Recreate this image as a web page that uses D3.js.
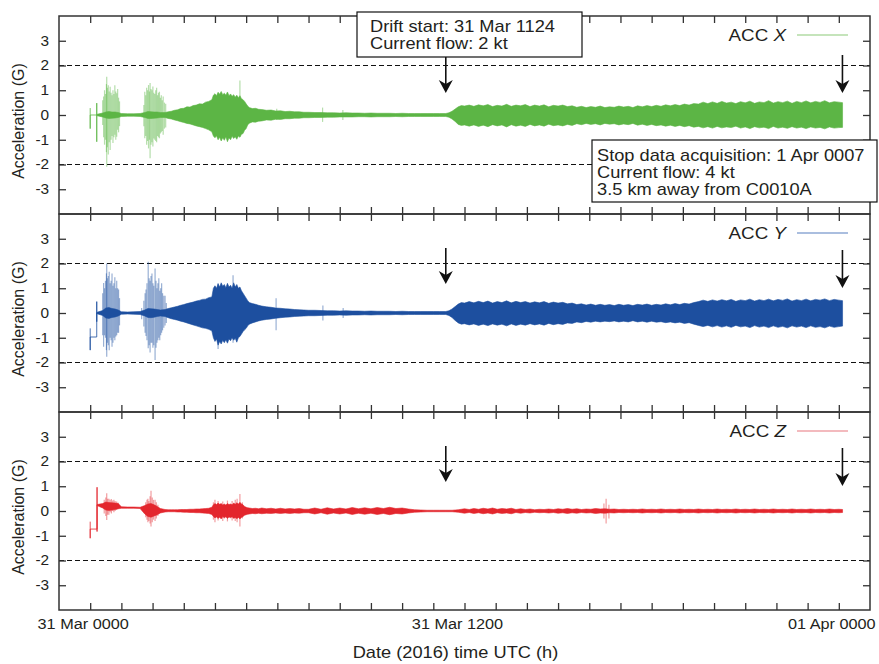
<!DOCTYPE html>
<html>
<head>
<meta charset="utf-8">
<script src="https://cdn.jsdelivr.net/npm/d3@7"></script>
<style>
  body { margin: 0; background: #fff; }
  svg text { font-family: "Liberation Sans", Arial, Helvetica, sans-serif; fill: #231f20; }
</style>
</head>
<body>
<svg id="chart" width="879" height="664"></svg>
<script>
// ---- Data: hours after 31 Mar 2016 00:00 UTC -------------------------------
// Time grid at which the oscillation envelope (upper / lower) is sampled
const hours = [
  0.22, 0.4, 0.5, 0.6, 0.7, 0.8, 0.9, 1.0, 1.2, 1.4,
  1.6, 1.75, 1.85, 1.95, 2.05, 2.15, 2.25, 2.4, 2.5, 2.6,
  2.7, 2.8, 2.9, 3.0, 3.1, 3.2, 3.3, 3.4, 3.5, 3.6,
  3.7, 3.8, 3.9, 3.95, 4.0, 4.05, 4.1, 4.15, 4.2, 4.25,
  4.3, 4.35, 4.4, 4.45, 4.5, 4.55, 4.6, 4.65, 4.7, 4.75,
  4.8, 4.85, 4.9, 4.95, 5.0, 5.05, 5.1, 5.2, 5.3, 5.4,
  5.5, 5.65, 5.8, 5.95, 6.1, 6.25, 6.4, 6.55, 6.7, 6.85,
  7.0, 7.2, 7.4, 7.6, 7.8, 8.0, 8.2, 8.4, 8.6, 8.8,
  9.0, 9.2, 9.4, 9.6, 9.8, 10.0, 10.2, 10.4, 10.6, 10.8,
  11.0, 11.2, 11.4, 11.5, 11.6, 11.7, 11.8, 11.9, 12.0, 12.15,
  12.3, 12.45, 12.6, 12.75, 12.9, 13.05, 13.2, 13.35, 13.5, 13.65,
  13.8, 13.95, 14.1, 14.25, 14.4, 14.55, 14.7, 14.85, 15.0, 15.15,
  15.3, 15.45, 15.6, 15.75, 15.9, 16.05, 16.2, 16.35, 16.5, 16.65,
  16.8, 16.95, 17.1, 17.25, 17.4, 17.55, 17.7, 17.85, 18.0, 18.15,
  18.3, 18.45, 18.6, 18.75, 18.9, 19.05, 19.2, 19.35, 19.5, 19.65,
  19.8, 19.95, 20.1, 20.25, 20.4, 20.55, 20.7, 20.85, 21.0, 21.15,
  21.3, 21.45, 21.6, 21.75, 21.9, 22.05, 22.2, 22.35, 22.5, 22.65,
  22.8, 22.95, 23.1, 23.25, 23.4, 23.55, 23.7, 23.85, 24.0, 24.12
];

// ACC X (G)
const accXUpper = [
  0.03, 0.08, 0.12, 0.14, 0.12, 0.12, 0.10, 0.06, 0.05, 0.05,
  0.06, 0.10, 0.14, 0.13, 0.12, 0.12, 0.10, 0.10, 0.13, 0.15,
  0.19, 0.21, 0.26, 0.27, 0.33, 0.32, 0.38, 0.40, 0.45, 0.44,
  0.52, 0.55, 0.62, 0.80, 0.86, 0.78, 0.92, 0.84, 0.95, 0.82,
  0.88, 0.80, 0.93, 0.78, 0.85, 0.76, 0.82, 0.72, 0.80, 0.70,
  0.78, 0.66, 0.62, 0.55, 0.45, 0.36, 0.30, 0.26, 0.27, 0.23,
  0.22, 0.19, 0.20, 0.16, 0.17, 0.14, 0.15, 0.13, 0.13, 0.11,
  0.11, 0.10, 0.10, 0.09, 0.09, 0.08, 0.09, 0.08, 0.08, 0.07,
  0.08, 0.07, 0.07, 0.07, 0.06, 0.07, 0.06, 0.06, 0.06, 0.06,
  0.06, 0.06, 0.06, 0.09, 0.15, 0.24, 0.33, 0.38, 0.36, 0.40,
  0.35, 0.41, 0.37, 0.42, 0.34, 0.39, 0.36, 0.43, 0.35, 0.40,
  0.37, 0.42, 0.34, 0.40, 0.36, 0.41, 0.33, 0.39, 0.36, 0.40,
  0.34, 0.37, 0.31, 0.35, 0.30, 0.34, 0.31, 0.36, 0.30, 0.33,
  0.31, 0.36, 0.32, 0.35, 0.30, 0.37, 0.33, 0.38, 0.34, 0.39,
  0.35, 0.41, 0.37, 0.42, 0.38, 0.44, 0.40, 0.46, 0.44, 0.52,
  0.46, 0.53, 0.47, 0.55, 0.48, 0.52, 0.46, 0.54, 0.49, 0.56,
  0.47, 0.53, 0.50, 0.58, 0.48, 0.54, 0.50, 0.56, 0.47, 0.55,
  0.50, 0.57, 0.49, 0.55, 0.51, 0.58, 0.49, 0.54, 0.52, 0.50
];
const accXLower = [
  -0.03, -0.08, -0.12, -0.14, -0.13, -0.12, -0.10, -0.06, -0.05, -0.05,
  -0.06, -0.10, -0.14, -0.14, -0.13, -0.12, -0.10, -0.10, -0.14, -0.16,
  -0.20, -0.23, -0.27, -0.30, -0.34, -0.36, -0.40, -0.44, -0.47, -0.50,
  -0.55, -0.60, -0.68, -0.85, -0.92, -0.84, -1.00, -0.90, -1.05, -0.92,
  -1.02, -0.88, -1.08, -0.92, -1.00, -0.86, -0.95, -0.88, -0.98, -0.85,
  -0.90, -0.78, -0.75, -0.62, -0.55, -0.40, -0.33, -0.28, -0.29, -0.25,
  -0.24, -0.20, -0.21, -0.17, -0.18, -0.15, -0.15, -0.13, -0.13, -0.11,
  -0.11, -0.10, -0.10, -0.09, -0.09, -0.08, -0.08, -0.08, -0.07, -0.07,
  -0.08, -0.07, -0.07, -0.07, -0.06, -0.07, -0.06, -0.06, -0.06, -0.06,
  -0.06, -0.06, -0.06, -0.09, -0.16, -0.26, -0.38, -0.42, -0.40, -0.45,
  -0.40, -0.46, -0.41, -0.47, -0.39, -0.44, -0.40, -0.48, -0.39, -0.45,
  -0.41, -0.46, -0.38, -0.44, -0.40, -0.45, -0.37, -0.43, -0.40, -0.44,
  -0.38, -0.42, -0.35, -0.39, -0.34, -0.38, -0.35, -0.40, -0.34, -0.37,
  -0.35, -0.40, -0.36, -0.39, -0.34, -0.41, -0.37, -0.42, -0.38, -0.43,
  -0.40, -0.45, -0.41, -0.46, -0.42, -0.47, -0.43, -0.49, -0.46, -0.52,
  -0.47, -0.53, -0.46, -0.52, -0.48, -0.51, -0.45, -0.53, -0.48, -0.55,
  -0.47, -0.52, -0.49, -0.55, -0.46, -0.53, -0.49, -0.54, -0.47, -0.53,
  -0.49, -0.55, -0.48, -0.53, -0.50, -0.56, -0.48, -0.53, -0.51, -0.50
];
const accXLeadHours  = [0, 0, 0, 0.21, 0.21, 0.21, 0.21, 0.22];
const accXLeadValues = [0.28, -0.55, 0, 0, 0.48, -1.08, 0, 0];
const accXSpikeHours = [
  0.40, 0.43, 0.46, 0.49, 0.52, 0.53, 0.55, 0.58, 0.61, 0.64,
  0.67, 0.70, 0.73, 0.76, 0.79, 0.82, 0.85, 0.88, 0.91, 0.94,
  1.72, 1.75, 1.78, 1.81, 1.84, 1.87, 1.90, 1.92, 1.95, 1.98,
  2.01, 2.04, 2.07, 2.10, 2.13, 2.16, 2.19, 2.22, 2.25, 2.28,
  2.31, 2.34, 2.38, 2.42, 4.80, 5.98, 7.45, 8.10];
const accXSpikeTop = [
  0.60, 0.75, 1.00, 0.85, 1.25, 1.55, 1.10, 1.20, 0.95, 1.14,
  0.90, 0.80, 1.00, 0.85, 1.20, 0.95, 0.88, 1.05, 0.70, 0.55,
  0.40, 0.94, 0.80, 1.10, 1.00, 1.21, 0.95, 1.29, 1.05, 1.00,
  1.15, 0.90, 0.85, 1.00, 1.10, 0.80, 0.90, 0.94, 0.70, 0.80,
  0.60, 0.75, 0.50, 0.45, 1.39, 0.25, 0.30, 0.20];
const accXSpikeBottom = [
  -0.40, -0.90, -1.20, -1.00, -1.50, -2.09, -1.30, -1.60, -1.10, -1.41,
  -1.00, -0.85, -1.13, -0.90, -0.80, -1.00, -0.88, -0.60, -0.70, -0.45,
  -0.45, -0.94, -0.85, -1.20, -1.05, -1.35, -1.00, -1.75, -1.20, -1.10,
  -1.27, -0.95, -1.00, -1.05, -1.10, -0.85, -0.90, -0.94, -0.75, -0.70,
  -0.65, -0.80, -0.55, -0.50, -0.88, -0.20, -0.28, -0.20];

// ACC Y (G)
const accYUpper = [
  0.03, 0.10, 0.20, 0.22, 0.18, 0.16, 0.12, 0.05, 0.04, 0.05,
  0.06, 0.12, 0.18, 0.17, 0.16, 0.14, 0.12, 0.14, 0.18, 0.21,
  0.24, 0.27, 0.31, 0.34, 0.38, 0.41, 0.44, 0.48, 0.51, 0.55,
  0.56, 0.62, 0.65, 1.00, 1.10, 1.00, 1.18, 1.05, 1.22, 1.08,
  1.15, 1.02, 1.20, 1.05, 1.12, 1.00, 1.22, 1.05, 1.15, 1.00,
  1.05, 0.90, 0.80, 0.70, 0.60, 0.50, 0.42, 0.38, 0.35, 0.31,
  0.28, 0.25, 0.23, 0.20, 0.19, 0.17, 0.16, 0.14, 0.13, 0.12,
  0.11, 0.11, 0.10, 0.09, 0.09, 0.08, 0.09, 0.08, 0.08, 0.07,
  0.08, 0.07, 0.07, 0.07, 0.06, 0.07, 0.06, 0.06, 0.06, 0.06,
  0.06, 0.06, 0.06, 0.09, 0.16, 0.26, 0.36, 0.42, 0.40, 0.46,
  0.41, 0.47, 0.42, 0.48, 0.40, 0.46, 0.42, 0.49, 0.41, 0.47,
  0.42, 0.46, 0.40, 0.45, 0.41, 0.46, 0.39, 0.44, 0.40, 0.43,
  0.37, 0.40, 0.34, 0.37, 0.32, 0.36, 0.31, 0.35, 0.31, 0.34,
  0.30, 0.35, 0.31, 0.34, 0.30, 0.35, 0.32, 0.36, 0.31, 0.35,
  0.32, 0.37, 0.33, 0.38, 0.34, 0.39, 0.36, 0.42, 0.46, 0.52,
  0.47, 0.53, 0.48, 0.54, 0.49, 0.55, 0.47, 0.53, 0.50, 0.56,
  0.48, 0.54, 0.50, 0.56, 0.49, 0.55, 0.51, 0.57, 0.48, 0.54,
  0.50, 0.56, 0.49, 0.55, 0.52, 0.57, 0.50, 0.55, 0.52, 0.50
];
const accYLower = [
  -0.03, -0.10, -0.20, -0.22, -0.18, -0.16, -0.12, -0.05, -0.04, -0.05,
  -0.06, -0.12, -0.18, -0.19, -0.17, -0.14, -0.12, -0.14, -0.19, -0.23,
  -0.26, -0.29, -0.33, -0.36, -0.40, -0.44, -0.48, -0.52, -0.56, -0.60,
  -0.62, -0.66, -0.72, -1.00, -1.15, -1.05, -1.30, -1.15, -1.25, -1.10,
  -1.20, -1.08, -1.22, -1.05, -1.12, -1.00, -1.10, -1.02, -1.18, -1.00,
  -0.95, -0.85, -0.75, -0.68, -0.62, -0.52, -0.45, -0.40, -0.36, -0.32,
  -0.29, -0.26, -0.24, -0.21, -0.19, -0.17, -0.16, -0.14, -0.13, -0.12,
  -0.11, -0.11, -0.10, -0.09, -0.09, -0.08, -0.09, -0.08, -0.08, -0.07,
  -0.08, -0.07, -0.07, -0.07, -0.06, -0.07, -0.06, -0.06, -0.06, -0.06,
  -0.06, -0.06, -0.06, -0.10, -0.18, -0.30, -0.40, -0.45, -0.43, -0.48,
  -0.44, -0.50, -0.45, -0.51, -0.44, -0.49, -0.45, -0.52, -0.44, -0.50,
  -0.45, -0.49, -0.43, -0.48, -0.44, -0.49, -0.42, -0.47, -0.43, -0.46,
  -0.40, -0.42, -0.36, -0.39, -0.34, -0.37, -0.33, -0.36, -0.33, -0.35,
  -0.32, -0.36, -0.33, -0.36, -0.31, -0.36, -0.33, -0.37, -0.33, -0.37,
  -0.35, -0.39, -0.36, -0.40, -0.37, -0.42, -0.39, -0.45, -0.50, -0.55,
  -0.50, -0.56, -0.51, -0.57, -0.52, -0.58, -0.50, -0.56, -0.53, -0.59,
  -0.51, -0.57, -0.53, -0.59, -0.52, -0.58, -0.54, -0.60, -0.52, -0.57,
  -0.53, -0.59, -0.52, -0.58, -0.55, -0.60, -0.53, -0.58, -0.55, -0.53
];
const accYLeadHours  = [0, 0, 0, 0.21, 0.21, 0.21, 0.21, 0.22];
const accYLeadValues = [-0.62, -1.50, -0.97, -0.97, 0.46, -0.35, 0, 0];
const accYSpikeHours = [
  0.40, 0.43, 0.46, 0.49, 0.52, 0.53, 0.55, 0.58, 0.61, 0.64,
  0.67, 0.70, 0.73, 0.76, 0.79, 0.82, 0.85, 0.88, 0.91, 0.94,
  1.65, 1.72, 1.76, 1.79, 1.82, 1.86, 1.89, 1.92, 1.95, 1.98,
  2.01, 2.04, 2.08, 2.11, 2.14, 2.17, 2.20, 2.23, 2.26, 2.29,
  2.32, 2.36, 2.40, 2.44, 4.10, 4.58, 5.96, 7.46, 8.11];
const accYSpikeTop = [
  0.80, 1.21, 1.00, 1.30, 1.60, 2.00, 1.40, 1.50, 1.67, 1.20,
  1.30, 1.60, 1.10, 1.20, 1.44, 1.00, 1.30, 1.00, 0.95, 0.60,
  0.20, 0.50, 0.80, 0.95, 1.20, 2.07, 1.40, 1.30, 1.50, 1.60,
  1.20, 1.10, 1.80, 1.30, 1.00, 1.20, 1.40, 0.90, 1.00, 1.20,
  0.80, 0.70, 0.70, 0.40, 1.20, 1.53, 0.60, 0.30, 0.20];
const accYSpikeBottom = [
  -0.90, -1.36, -0.90, -1.00, -1.50, -1.77, -1.20, -1.30, -1.50, -1.00,
  -1.10, -1.36, -1.20, -1.00, -1.10, -0.95, -0.90, -0.80, -0.80, -0.50,
  -0.25, -0.55, -0.80, -0.93, -1.10, -1.42, -1.30, -1.60, -1.20, -1.20,
  -1.40, -1.30, -1.90, -1.40, -1.20, -1.10, -1.00, -1.10, -0.90, -0.80,
  -0.70, -0.60, -0.50, -0.40, -1.45, -1.20, -0.70, -0.30, -0.20];

// ACC Z (G)
const accZUpper = [
  0.26, 0.30, 0.36, 0.34, 0.33, 0.32, 0.30, 0.17, 0.16, 0.16,
  0.15, 0.22, 0.28, 0.30, 0.25, 0.18, 0.10, 0.06, 0.05, 0.05,
  0.05, 0.05, 0.06, 0.06, 0.06, 0.07, 0.07, 0.08, 0.08, 0.09,
  0.10, 0.11, 0.15, 0.25, 0.30, 0.26, 0.32, 0.27, 0.30, 0.24,
  0.28, 0.24, 0.30, 0.26, 0.28, 0.25, 0.32, 0.27, 0.33, 0.28,
  0.35, 0.28, 0.25, 0.18, 0.15, 0.13, 0.12, 0.10, 0.11, 0.09,
  0.12, 0.09, 0.11, 0.08, 0.11, 0.08, 0.10, 0.08, 0.10, 0.07,
  0.07, 0.12, 0.07, 0.13, 0.08, 0.12, 0.08, 0.14, 0.09, 0.13,
  0.09, 0.14, 0.10, 0.15, 0.10, 0.12, 0.08, 0.05, 0.04, 0.03,
  0.03, 0.03, 0.03, 0.03, 0.03, 0.04, 0.05, 0.07, 0.09, 0.06,
  0.10, 0.07, 0.11, 0.08, 0.12, 0.07, 0.10, 0.08, 0.11, 0.06,
  0.09, 0.06, 0.08, 0.05, 0.07, 0.06, 0.08, 0.06, 0.09, 0.07,
  0.10, 0.07, 0.09, 0.06, 0.08, 0.07, 0.10, 0.08, 0.09, 0.07,
  0.08, 0.06, 0.07, 0.06, 0.07, 0.06, 0.08, 0.06, 0.07, 0.06,
  0.08, 0.06, 0.07, 0.06, 0.08, 0.06, 0.07, 0.06, 0.08, 0.06,
  0.07, 0.06, 0.08, 0.06, 0.07, 0.06, 0.08, 0.06, 0.07, 0.06,
  0.08, 0.06, 0.07, 0.06, 0.08, 0.06, 0.07, 0.06, 0.08, 0.06,
  0.07, 0.06, 0.08, 0.06, 0.07, 0.06, 0.08, 0.06, 0.07, 0.06
];
const accZLower = [
  0.22, 0.12, 0.04, 0.02, 0.04, 0.06, 0.09, 0.11, 0.11, 0.11,
  0.10, -0.12, -0.22, -0.25, -0.20, -0.15, -0.08, -0.04, -0.03, -0.03,
  -0.03, -0.04, -0.04, -0.05, -0.05, -0.06, -0.06, -0.07, -0.07, -0.08,
  -0.09, -0.10, -0.14, -0.22, -0.28, -0.24, -0.30, -0.25, -0.32, -0.22,
  -0.28, -0.23, -0.30, -0.24, -0.27, -0.23, -0.30, -0.26, -0.31, -0.26,
  -0.32, -0.26, -0.22, -0.17, -0.15, -0.13, -0.12, -0.10, -0.11, -0.09,
  -0.11, -0.09, -0.10, -0.08, -0.10, -0.08, -0.10, -0.08, -0.09, -0.07,
  -0.07, -0.12, -0.07, -0.13, -0.08, -0.12, -0.08, -0.14, -0.09, -0.13,
  -0.09, -0.14, -0.10, -0.15, -0.10, -0.12, -0.08, -0.05, -0.04, -0.03,
  -0.03, -0.03, -0.03, -0.03, -0.03, -0.04, -0.05, -0.07, -0.09, -0.06,
  -0.10, -0.07, -0.11, -0.08, -0.12, -0.07, -0.10, -0.08, -0.11, -0.06,
  -0.09, -0.06, -0.08, -0.05, -0.07, -0.06, -0.08, -0.06, -0.09, -0.07,
  -0.10, -0.07, -0.09, -0.06, -0.08, -0.07, -0.10, -0.08, -0.09, -0.07,
  -0.08, -0.06, -0.07, -0.06, -0.07, -0.06, -0.08, -0.06, -0.07, -0.06,
  -0.08, -0.06, -0.07, -0.06, -0.08, -0.06, -0.07, -0.06, -0.08, -0.06,
  -0.07, -0.06, -0.08, -0.06, -0.07, -0.06, -0.08, -0.06, -0.07, -0.06,
  -0.08, -0.06, -0.07, -0.06, -0.08, -0.06, -0.07, -0.06, -0.08, -0.06,
  -0.07, -0.06, -0.08, -0.06, -0.07, -0.06, -0.08, -0.06, -0.07, -0.06
];
const accZLeadHours  = [0, 0, 0, 0.22, 0.22, 0.22, 0.22];
const accZLeadValues = [-0.43, -1.10, -0.73, -0.73, 0.96, -0.83, 0.24];
const accZSpikeHours = [
  0.45, 0.50, 0.53, 0.56, 0.60, 0.64, 0.68, 0.72, 0.76, 0.80, 0.85, 0.90,
  1.78, 1.82, 1.85, 1.88, 1.92, 1.95, 1.99, 2.03, 2.08, 2.12, 2.17,
  3.95, 4.00, 4.10, 4.25, 4.40, 4.55, 4.65, 4.71, 4.80, 4.88,
  16.47, 16.54, 16.63];
const accZSpikeTop = [
  0.45, 0.55, 0.72, 0.50, 0.50, 0.45, 0.48, 0.42, 0.45, 0.40, 0.38, 0.33,
  0.35, 0.45, 0.50, 0.40, 0.60, 0.82, 0.55, 0.45, 0.45, 0.35, 0.25,
  0.35, 0.45, 0.40, 0.38, 0.42, 0.40, 0.45, 0.50, 0.69, 0.35,
  0.30, 0.50, 0.25];
const accZSpikeBottom = [
  -0.10, -0.20, -0.36, -0.15, -0.15, -0.05, -0.10, 0.00, -0.05, 0.00, 0.05, 0.08,
  -0.25, -0.35, -0.45, -0.40, -0.50, -0.63, -0.45, -0.35, -0.40, -0.30, -0.20,
  -0.35, -0.45, -0.38, -0.40, -0.42, -0.38, -0.40, -0.45, -0.63, -0.30,
  -0.30, -0.50, -0.30];

// Axes and annotations
const yTicks = [-3, -2, -1, 0, 1, 2, 3];
const thresholds = [-2, 2];
const xTickHours = [0, 1, 2, 3, 4, 5, 6, 7, 8, 9, 10, 11, 12, 13, 14, 15, 16, 17, 18, 19, 20, 21, 22, 23, 24];
const xLabelHours = [0, 12, 24];
const xLabelText = ["31 Mar 0000", "31 Mar 1200", "01 Apr 0000"];
const driftStartHour = 11 + 24 / 60;   // 31 Mar 1124
const stopHour = 24 + 7 / 60;          // 1 Apr 0007
const driftNote = ["Drift start: 31 Mar 1124", "Current flow: 2 kt"];
const stopNote = ["Stop data acquisition: 1 Apr 0007", "Current flow: 4 kt", "3.5 km away from C0010A"];

// ---- Drawing ------------------------------------------------------------
const svg = d3.select("#chart");
const plotLeft = 59, plotRight = 870, firstTop = 16, panelHeight = 198;
const frame = "#333333";
const x = d3.scaleLinear().domain([-1, 25]).range([plotLeft, plotRight]);

function addText(parent, str, px, py, o) {
  const t = parent.append("text")
    .attr("transform", `translate(${px},${py})` + (o.rotate ? ` rotate(${o.rotate})` : "") + ` scale(${o.stretch || 1},1)`)
    .attr("text-anchor", o.anchor || "start")
    .style("font-size", o.size + "px");
  if (str !== null) t.text(str);
  return t;
}

function addArrow(parent, xp, y0, y1) {
  parent.append("line").attr("x1", xp).attr("x2", xp).attr("y1", y0).attr("y2", y1 - 8)
    .attr("stroke", "#111").attr("stroke-width", 1.6);
  parent.append("path")
    .attr("d", `M${xp},${y1} L${xp - 7},${y1 - 13} L${xp},${y1 - 9} L${xp + 7},${y1 - 13} Z`)
    .attr("fill", "#111");
}

const series = [
  { name: "X", upper: accXUpper, lower: accXLower, leadH: accXLeadHours, leadV: accXLeadValues,
    spikeH: accXSpikeHours, spikeTop: accXSpikeTop, spikeBot: accXSpikeBottom,
    color: "#5cb545", legendColor: "#b2dba4" },
  { name: "Y", upper: accYUpper, lower: accYLower, leadH: accYLeadHours, leadV: accYLeadValues,
    spikeH: accYSpikeHours, spikeTop: accYSpikeTop, spikeBot: accYSpikeBottom,
    color: "#1d4f9f", legendColor: "#8ea8d4" },
  { name: "Z", upper: accZUpper, lower: accZLower, leadH: accZLeadHours, leadV: accZLeadValues,
    spikeH: accZSpikeHours, spikeTop: accZSpikeTop, spikeBot: accZSpikeBottom,
    color: "#e3262d", legendColor: "#efa3a8" }
];

const arrowLayer = [];

series.forEach((s, i) => {
  const top = firstTop + i * panelHeight, bottom = top + panelHeight;
  const y = d3.scaleLinear().domain([-4, 4]).range([bottom, top]);
  const g = svg.append("g").attr("class", "panel");

  // ±2 G reference lines
  g.selectAll("line.thr").data(thresholds).join("line").attr("class", "thr")
    .attr("x1", plotLeft).attr("x2", plotRight)
    .attr("y1", d => y(d)).attr("y2", d => y(d))
    .attr("stroke", "#111").attr("stroke-width", 1.2).attr("stroke-dasharray", "5,3");

  // individual large swings during the early bursts
  const spikes = s.spikeH.map((h, k) => ({ h, top: s.spikeTop[k], bot: s.spikeBot[k] }))
    .filter(d => d.top != null && d.bot != null);
  g.selectAll("line.spike").data(spikes).join("line").attr("class", "spike")
    .attr("x1", d => x(d.h)).attr("x2", d => x(d.h))
    .attr("y1", d => y(d.top)).attr("y2", d => y(d.bot))
    .attr("stroke", s.color).attr("stroke-opacity", 0.45).attr("stroke-width", 1.2);

  // offset steps at the start of the record
  const lead = d3.line().x(d => x(d[0])).y(d => y(d[1]));
  g.append("path").attr("d", lead(s.leadH.map((h, k) => [h, s.leadV[k]])))
    .attr("fill", "none").attr("stroke", s.color).attr("stroke-width", 1).attr("stroke-opacity", 0.8);

  // oscillation envelope
  const env = d3.area()
    .defined(k => s.upper[k] != null && s.lower[k] != null)
    .x(k => x(hours[k])).y0(k => y(s.lower[k])).y1(k => y(s.upper[k]));
  g.append("path").attr("d", env(d3.range(hours.length)))
    .attr("fill", s.color).attr("stroke", s.color).attr("stroke-width", 0.6).attr("stroke-linejoin", "round");

  // legend
  const lt = addText(g, null, 786, top + 25, { size: 16.5, anchor: "end", stretch: 1.14 });
  lt.append("tspan").text("ACC ");
  lt.append("tspan").style("font-style", "italic").text(s.name);
  g.append("line").attr("x1", 797).attr("x2", 848).attr("y1", top + 19).attr("y2", top + 19)
    .attr("stroke", s.legendColor).attr("stroke-width", 1.6);

  // axes: inward ticks on all four sides
  const tickStyle = a => { a.select(".domain").remove(); a.selectAll("line").attr("stroke", frame).attr("stroke-width", 1.3); };
  g.append("g").attr("transform", `translate(0,${top})`)
    .call(d3.axisBottom(x).tickValues(xTickHours).tickSize(7).tickFormat("")).call(tickStyle);
  g.append("g").attr("transform", `translate(0,${bottom})`)
    .call(d3.axisTop(x).tickValues(xTickHours).tickSize(7).tickFormat("")).call(tickStyle);
  const la = g.append("g").attr("transform", `translate(${plotLeft},0)`)
    .call(d3.axisLeft(y).tickValues(yTicks).tickSize(-7).tickPadding(9).tickFormat(d => String(d)))
    .call(tickStyle);
  la.selectAll("text").style("font-size", "14px").attr("transform", "scale(1.1,1)");
  g.append("g").attr("transform", `translate(${plotRight},0)`)
    .call(d3.axisRight(y).tickValues(yTicks).tickSize(-7).tickFormat("")).call(tickStyle);

  g.append("rect").attr("x", plotLeft).attr("y", top)
    .attr("width", plotRight - plotLeft).attr("height", panelHeight)
    .attr("fill", "none").attr("stroke", frame).attr("stroke-width", 1.5);

  // y title
  addText(g, "Acceleration (G)", 24, (top + bottom) / 2 + 6, { size: 16, anchor: "middle", stretch: 1.0, rotate: -90 });

  arrowLayer.push({ top, first: i === 0 });
});

// x tick labels and title
xLabelHours.forEach((h, k) => {
  addText(svg, xLabelText[k], x(h) - 7, 629, { size: 15.5, anchor: "middle", stretch: 1.05 });
});
addText(svg, "Date (2016) time UTC (h)", (plotLeft + plotRight) / 2 - 9, 658, { size: 16, anchor: "middle", stretch: 1.14 });

// annotation boxes
const notes = svg.append("g");
notes.append("rect").attr("x", 357).attr("y", 12).attr("width", 225).attr("height", 45)
  .attr("fill", "#fff").attr("stroke", "#111").attr("stroke-width", 1.2);
driftNote.forEach((line, k) => addText(notes, line, 370, 32 + k * 17, { size: 16, stretch: 1.14 }));
notes.append("rect").attr("x", 592).attr("y", 140).attr("width", 285).attr("height", 62)
  .attr("fill", "#fff").attr("stroke", "#111").attr("stroke-width", 1.2);
stopNote.forEach((line, k) => addText(notes, line, 597, 161 + k * 17, { size: 16, stretch: 1.14 }));

// arrows marking drift start and end of acquisition
const arrows = svg.append("g");
arrowLayer.forEach(p => {
  addArrow(arrows, x(driftStartHour), p.first ? 57 : p.top + 34, p.top + (p.first ? 77 : 70));
  addArrow(arrows, x(stopHour), p.top + (p.first ? 39 : 36), p.top + (p.first ? 77 : 74));
});
</script>
</body>
</html>
